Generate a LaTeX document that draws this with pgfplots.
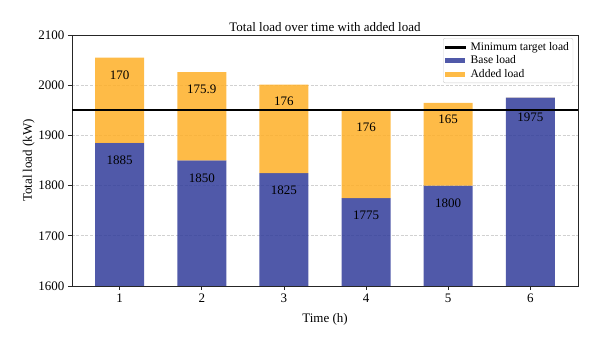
\documentclass[border=0pt]{standalone}
\usepackage{pgfplots}
\pgfplotsset{compat=1.18}
\usepackage{fontspec}
\setmainfont{Liberation Serif}
\definecolor{baseblue}{RGB}{49,60,154}
\definecolor{addorange}{RGB}{254,175,39}
\definecolor{legblue}{RGB}{80,89,169}
\definecolor{legorange}{RGB}{254,187,71}
\pgfplotsset{
  linelegend/.style={legend image code/.code={\fill[black, fill opacity=1, sharp corners] (0pt,-0.9pt) rectangle (20pt,0.9pt);}},
  bluelegend/.style={legend image code/.code={\fill[legblue, fill opacity=1, sharp corners] (0pt,-2.5pt) rectangle (20pt,2.5pt);}},
  orangelegend/.style={legend image code/.code={\fill[legorange, fill opacity=1, sharp corners] (0pt,-2.5pt) rectangle (20pt,2.5pt);}},
  stackbar/.style={ybar, stack plots=y, bar width=49pt, bar shift=0pt, draw=none, fill opacity=0.85},
  barlabels/.style={only marks, mark=none, forget plot,
    point meta=explicit symbolic, nodes near coords,
    every node near coord/.style={anchor=center, black, font=\fontsize{13}{15}\selectfont}},
}
\begin{document}
\begin{tikzpicture}[x=1pt,y=1pt]
\useasboundingbox (0,0) rectangle (600,345);
\begin{axis}[
  at={(72pt,59pt)}, anchor=south west,
  scale only axis, width=506pt, height=251pt,
  xmin=0.42, xmax=6.58, ymin=1600, ymax=2100,
  xtick={1,2,3,4,5,6}, ytick={1600,1700,1800,1900,2000,2100},
  ymajorgrids, grid style={dash pattern=on 3pt off 1.5pt, black!18, line width=0.6pt},
  tick align=outside, tick pos=left, major tick length=4pt,
  axis line style={black!85, line width=0.8pt},
  every tick/.style={black!85, line width=0.8pt},
  font=\fontsize{13}{15}\selectfont,
  /pgf/number format/assume math mode=true,
  /pgf/number format/1000 sep={},
  title={Total load over time with added load},
  title style={yshift=-6.5pt},
  xlabel={Time (h)}, ylabel={Total load (kW)},
  xlabel style={yshift=-4pt},
  ylabel style={yshift=-3pt},
  legend style={at={(rel axis cs:0.9905,0.988)}, anchor=north east,
    draw=black!20, rounded corners=2pt, fill=white, fill opacity=0.8, text opacity=1,
    font=\fontsize{11.6}{13.5}\selectfont, inner sep=2pt, row sep=0pt,
    /tikz/every odd column/.append style={column sep=3pt}},
  legend cell align=left,
]
\addlegendimage{linelegend}
\addlegendentry{Minimum target load}
\addplot[stackbar, fill=baseblue, bluelegend]
  coordinates {(1,1885) (2,1850) (3,1825) (4,1775) (5,1800) (6,1975)};
\addlegendentry{Base load}
\addplot[stackbar, fill=addorange, orangelegend]
  coordinates {(1,170) (2,175.9) (3,176) (4,176) (5,165) (6,0)};
\addlegendentry{Added load}
\addplot[black, line width=1.6pt, forget plot, mark=none]
  coordinates {(0.42,1950) (6.58,1950)};
% value labels, placed about 35 kW below the top of each segment
\addplot[barlabels]
  coordinates {(1,1850)[1885] (2,1815)[1850] (3,1790)[1825] (4,1740)[1775] (5,1765)[1800] (6,1937)[1975]};
\addplot[barlabels]
  coordinates {(1,2020)[170] (2,1990.9)[175.9] (3,1968)[176] (4,1916)[176] (5,1932)[165]};
\end{axis}
\end{tikzpicture}
\end{document}
